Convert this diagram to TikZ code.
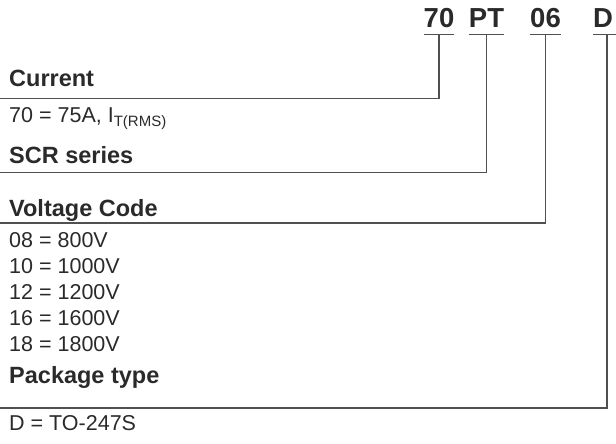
\documentclass[tikz,border=0pt]{standalone}
\usepackage{fontspec}
\setmainfont{Liberation Sans}
\definecolor{txt}{HTML}{2A2A2A}
\definecolor{ln}{HTML}{505050}

\begin{document}
\begin{tikzpicture}[x=1pt, y=-1pt,
	code/.style = {font=\fontsize{27.5}{28}\selectfont\bfseries, text=txt, inner sep=0pt, anchor=base},
	head/.style = {font=\fontsize{23.5}{24}\selectfont\bfseries, text=txt, inner sep=0pt, anchor=base west},
	val/.style = {font=\fontsize{21.5}{24}\selectfont, text=txt, inner sep=0pt, anchor=base west},
	lead/.style = {draw=ln, line width=1.2pt}]
	\useasboundingbox (0,0) rectangle (616,444);
	% part number
	\node[code] (c70) at (439,28) {70};
	\node[code] (cPT) at (486.5,28) {PT};
	\node[code] (c06) at (545.5,28) {06};
	\node[code] (cD) at (603,28) {D};
	\draw[lead] ([yshift=-6.3pt]c70.base west) -- ([yshift=-6.3pt]c70.base east);
	\draw[lead] ([yshift=-6.3pt]cPT.base west) -- ([yshift=-6.3pt]cPT.base east);
	\draw[lead] ([yshift=-6.3pt]c06.base west) -- ([yshift=-6.3pt]c06.base east);
	\draw[lead] ([yshift=-6.3pt]cD.base west) -- ++(40,0);
	% left ends of the leader lines
	\coordinate (e70) at (0,98.5);
	\coordinate (ePT) at (0,172.7);
	\coordinate (e06) at (0,223);
	\coordinate (eD) at (0,408);
	\draw[lead] ([yshift=-6.3pt]c70.base) |- (e70);
	\draw[lead] ([yshift=-6.3pt]cPT.base) |- (ePT);
	\draw[lead] ([yshift=-6.3pt]c06.base) |- (e06);
	\draw[lead] ([xshift=4pt,yshift=-6.3pt]cD.base) |- (eD);
	% current
	\node[head] (hcur) at (9,87) {Current};
	\node[val] (vcur) at (9,122.5) {70 = 75A, I\raisebox{-4pt}{\fontsize{15}{15}\selectfont T(RMS)}};
	% series
	\node[head] (hser) at (9,163) {SCR series};
	% voltage
	\node[head] (hvol) at (9,216) {Voltage Code};
	\node[val] (v08) at (9,247.5) {08 = 800V};
	\node[val] (v10) at (9,273.5) {10 = 1000V};
	\node[val] (v12) at (9,299.5) {12 = 1200V};
	\node[val] (v16) at (9,325.5) {16 = 1600V};
	\node[val] (v18) at (9,351.5) {18 = 1800V};
	% package
	\node[head] (hpak) at (9,383) {Package type};
	\node[val] (vpak) at (9,430) {D = TO-247S};
\end{tikzpicture}
\end{document}
